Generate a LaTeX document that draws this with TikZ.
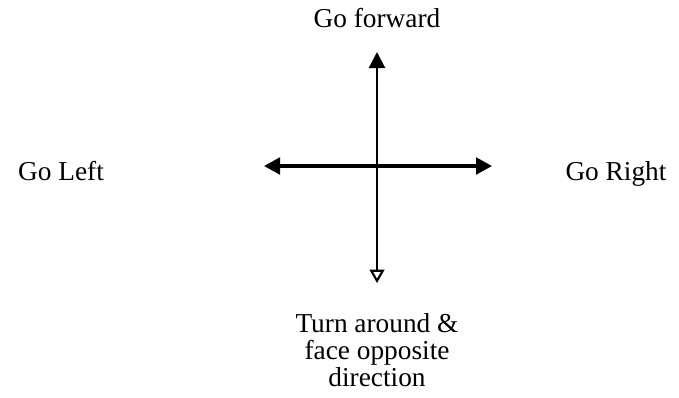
\documentclass[tikz,border=0pt]{standalone}
\usepackage{fontspec}
\setmainfont{Liberation Serif}
\usetikzlibrary{arrows.meta,positioning}

\begin{document}
\begin{tikzpicture}[
      x=0.75pt, y=-0.75pt,
      lbl/.style={align=center, inner sep=0pt, anchor=base, font=\fontsize{20.5pt}{20.25pt}\selectfont},
      horarr/.style={{Triangle[length=12pt,width=12.5pt]}-{Triangle[length=12pt,width=12.5pt]}, line width=2.3pt},
      verarr/.style={{Triangle[open,length=10pt,width=11pt,line width=1.6pt]}-{Triangle[length=12pt,width=12pt]}, line width=1.6pt}
    ]
      \useasboundingbox (0,0) rectangle (679,397);

      \coordinate (ctr) at (377,166);
      \coordinate (tipU) at (377,52);
      \coordinate (tipD) at (377,283);
      \coordinate (tipL) at (264,166);
      \coordinate (tipR) at (492,166);

      \node[lbl] (fwd) at (377,27) {Go forward};
      \node[lbl] (lft) at (61,180) {Go Left};
      \node[lbl] (rgt) at (616,180) {Go Right};
      \node[lbl] (back) at (377,386) {Turn around \&\\face opposite\\direction};

      \draw[horarr] (tipL) -- (tipR);
      \draw[verarr] (tipD) -- (tipU);
    \end{tikzpicture}
\end{document}
